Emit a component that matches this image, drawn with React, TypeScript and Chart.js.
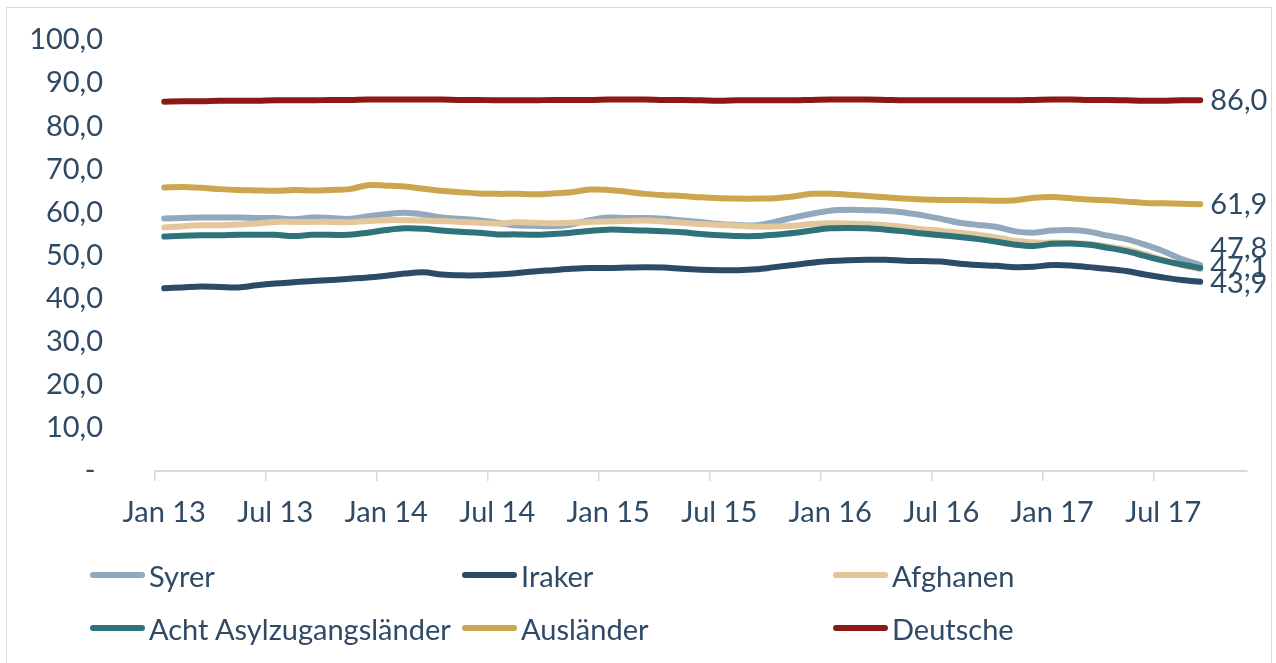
import React, { useEffect, useRef } from "react";
import { Chart, registerables } from "chart.js";

Chart.register(...registerables);

const categories = [
  "Jan 13", "Feb 13", "Mär 13", "Apr 13", "Mai 13", "Jun 13", "Jul 13", "Aug 13", "Sep 13", "Okt 13", "Nov 13", "Dez 13",
  "Jan 14", "Feb 14", "Mär 14", "Apr 14", "Mai 14", "Jun 14", "Jul 14", "Aug 14", "Sep 14", "Okt 14", "Nov 14", "Dez 14",
  "Jan 15", "Feb 15", "Mär 15", "Apr 15", "Mai 15", "Jun 15", "Jul 15", "Aug 15", "Sep 15", "Okt 15", "Nov 15", "Dez 15",
  "Jan 16", "Feb 16", "Mär 16", "Apr 16", "Mai 16", "Jun 16", "Jul 16", "Aug 16", "Sep 16", "Okt 16", "Nov 16", "Dez 16",
  "Jan 17", "Feb 17", "Mär 17", "Apr 17", "Mai 17", "Jun 17", "Jul 17", "Aug 17", "Sep 17", "Okt 17", "Nov 17",
];

const syrer = [
  58.6, 58.7, 58.8, 58.8, 58.8, 58.7, 58.7, 58.4, 58.8, 58.7, 58.5, 59.1,
  59.6, 59.9, 59.5, 58.8, 58.5, 58.2, 57.6, 57.0, 56.9, 56.8, 57.2, 58.2,
  58.8, 58.7, 58.7, 58.5, 58.1, 57.8, 57.3, 57.1, 57.0, 57.8, 58.8, 59.7,
  60.4, 60.6, 60.5, 60.4, 60.0, 59.3, 58.5, 57.6, 57.1, 56.6, 55.6, 55.3,
  55.8, 55.9, 55.5, 54.6, 53.8, 52.5, 51.0, 49.2, 47.8, null, null,
];

const iraker = [
  42.4, 42.6, 42.8, 42.7, 42.6, 43.1, 43.5, 43.8, 44.1, 44.3, 44.6, 44.9,
  45.3, 45.8, 46.1, 45.6, 45.4, 45.4, 45.6, 45.9, 46.3, 46.6, 46.9, 47.1,
  47.1, 47.2, 47.3, 47.2, 46.9, 46.7, 46.6, 46.6, 46.8, 47.3, 47.8, 48.3,
  48.7, 48.9, 49.0, 49.0, 48.8, 48.7, 48.6, 48.1, 47.8, 47.6, 47.3, 47.4,
  47.8, 47.7, 47.3, 46.9, 46.4, 45.6, 44.9, 44.3, 43.9, null, null,
];

const afghanen = [
  56.5, 56.8, 57.0, 57.0, 57.2, 57.4, 57.8, 57.8, 57.8, 57.8, 57.7, 58.0,
  58.2, 58.2, 58.1, 58.0, 57.8, 57.6, 57.4, 57.7, 57.6, 57.5, 57.6, 57.8,
  57.9, 58.0, 58.1, 57.9, 57.6, 57.3, 57.1, 56.9, 56.7, 56.7, 56.9, 57.3,
  57.5, 57.4, 57.3, 57.0, 56.6, 56.1, 55.7, 55.3, 54.8, 54.2, 53.4, 53.0,
  53.0, 52.9, 52.7, 52.1, 51.4, 50.3, 49.0, 47.8, 46.8, null, null,
];

const achtLaender = [
  54.4, 54.6, 54.7, 54.7, 54.8, 54.8, 54.8, 54.5, 54.8, 54.8, 54.8, 55.3,
  55.9, 56.3, 56.2, 55.8, 55.5, 55.3, 54.9, 54.9, 54.8, 55.0, 55.3, 55.7,
  56.0, 55.9, 55.8, 55.6, 55.4, 55.0, 54.7, 54.5, 54.5, 54.8, 55.2, 55.8,
  56.3, 56.4, 56.3, 56.0, 55.6, 55.1, 54.7, 54.3, 53.8, 53.2, 52.5, 52.2,
  52.7, 52.8, 52.5, 51.8, 51.0, 49.9, 48.8, 47.9, 47.1, null, null,
];

const auslaender = [
  65.8, 65.9, 65.7, 65.4, 65.2, 65.1, 65.0, 65.2, 65.1, 65.2, 65.4, 66.3,
  66.2, 66.0, 65.5, 65.0, 64.7, 64.4, 64.3, 64.3, 64.2, 64.4, 64.7, 65.3,
  65.2, 64.8, 64.3, 64.0, 63.8, 63.5, 63.3, 63.2, 63.2, 63.3, 63.7, 64.3,
  64.3, 64.1, 63.8, 63.5, 63.2, 63.0, 62.9, 62.9, 62.8, 62.7, 62.8, 63.4,
  63.6, 63.3, 63.0, 62.8, 62.5, 62.2, 62.1, 62.0, 61.9, null, null,
];

const deutsche = [
  85.7, 85.8, 85.8, 85.9, 85.9, 85.9, 86.0, 86.0, 86.0, 86.1, 86.1, 86.2,
  86.2, 86.2, 86.2, 86.2, 86.1, 86.1, 86.0, 86.0, 86.0, 86.1, 86.1, 86.1,
  86.2, 86.2, 86.2, 86.1, 86.1, 86.0, 85.9, 86.0, 86.0, 86.0, 86.0, 86.1,
  86.2, 86.2, 86.2, 86.1, 86.0, 86.0, 86.0, 86.0, 86.0, 86.0, 86.0, 86.1,
  86.2, 86.2, 86.1, 86.1, 86.0, 85.9, 85.9, 86.0, 86.0, null, null,
];

const seriesNames = ["Syrer", "Iraker", "Afghanen", "Acht Asylzugangsländer", "Ausländer", "Deutsche"];
const seriesColors = ["#91a8bd", "#2d4a66", "#e3c699", "#2e737a", "#cda54f", "#8b1a14"];
const seriesData = [syrer, iraker, afghanen, achtLaender, auslaender, deutsche];
const endLabels: (string | null)[] = ["47,8", "43,9", null, "47,1", "61,9", "86,0"];
const endLabelDy = [-16, 2, 0, 0, 0, 0];

const yTicks = [0, 10, 20, 30, 40, 50, 60, 70, 80, 90, 100];

const TEXT_COLOR = "#2e4a66";
const FONT_FAMILY = "Lato, 'Open Sans', sans-serif";
const FONT_SIZE = 29;

const endLabelPlugin = {
  id: "endLabels",
  afterDatasetsDraw(chart: any) {
    const ctx = chart.ctx;
    ctx.save();
    ctx.font = `${FONT_SIZE}px ${FONT_FAMILY}`;
    ctx.fillStyle = TEXT_COLOR;
    ctx.textAlign = "left";
    ctx.textBaseline = "middle";
    chart.data.datasets.forEach((ds: any, di: number) => {
      const text = endLabels[di];
      if (!text) return;
      const meta = chart.getDatasetMeta(di);
      let last = -1;
      ds.data.forEach((v: any, i: number) => {
        if (v !== null && v !== undefined) last = i;
      });
      if (last < 0) return;
      const pt = meta.data[last];
      ctx.fillText(text, pt.x + 10, pt.y + endLabelDy[di]);
    });
    ctx.restore();
  },
};

export default function App() {
  const canvasRef = useRef<HTMLCanvasElement | null>(null);

  useEffect(() => {
    if (!canvasRef.current) return;
    const chart = new Chart(canvasRef.current, {
      type: "line",
      data: {
        labels: categories,
        datasets: seriesData.map((d, i) => ({
          label: seriesNames[i],
          data: d,
          borderColor: seriesColors[i],
          backgroundColor: seriesColors[i],
          borderWidth: 6,
          borderCapStyle: "round" as const,
          borderJoinStyle: "round" as const,
          pointRadius: 0,
          pointHoverRadius: 0,
          tension: 0.35,
          fill: false,
          order: seriesData.length - i,
          spanGaps: false,
        })),
      },
      options: {
        responsive: false,
        animation: false,
        devicePixelRatio: 1,
        layout: { padding: { top: 40, right: 29.5, bottom: 0, left: 0 } },
        plugins: {
          legend: { display: false },
          tooltip: { enabled: false },
        },
        scales: {
          x: {
            type: "category",
            offset: true,
            grid: {
              offset: true,
              drawOnChartArea: false,
              drawTicks: true,
              tickLength: 10,
              lineWidth: 1.5,
              tickColor: (ctx: any) => (ctx.index % 6 === 0 && ctx.index < categories.length ? "#d9d9d9" : "rgba(0,0,0,0)"),
              color: "rgba(0,0,0,0)",
            },
            border: { display: true, color: "#d9d9d9", width: 2 },
            ticks: {
              autoSkip: false,
              maxRotation: 0,
              minRotation: 0,
              padding: 14,
              color: TEXT_COLOR,
              font: { family: FONT_FAMILY, size: FONT_SIZE },
              callback: (_v: any, i: number) => (i % 6 === 0 ? categories[i] : ""),
            },
            afterFit: (scale: any) => {
              scale.height = 192;
            },
          },
          y: {
            min: 0,
            max: 100,
            afterBuildTicks: (scale: any) => {
              scale.ticks = yTicks.map((v) => ({ value: v }));
            },
            grid: { display: false, drawTicks: false, tickLength: 0 },
            border: { display: false },
            ticks: {
              padding: 52,
              color: TEXT_COLOR,
              font: { family: FONT_FAMILY, size: FONT_SIZE },
              callback: (v: any) => (v === 0 ? "- " : Number(v).toFixed(1).replace(".", ",")),
            },
            afterFit: (scale: any) => {
              scale.width = 155;
              scale.paddingTop = 0;
              scale.paddingBottom = 0;
            },
          },
        },
      },
      plugins: [endLabelPlugin],
    });
    return () => chart.destroy();
  }, []);

  const legendCols = [90, 462, 833];
  const legendRows = [575, 628];

  return (
    <div style={{ position: "absolute", left: 0, top: 0, width: 1276, height: 663, overflow: "hidden", background: "#fff" }}>
      <div
        style={{
          position: "absolute",
          left: 6,
          top: 7,
          width: 1266,
          height: 700,
          border: "1.5px solid #d9d9d9",
          boxSizing: "border-box",
        }}
      />
      <canvas
        ref={canvasRef}
        width={1276}
        height={663}
        style={{ position: "absolute", left: 0, top: 0, width: 1276, height: 663 }}
      />
      {seriesNames.map((name, i) => {
        const col = i % 3;
        const row = Math.floor(i / 3);
        return (
          <div
            key={name}
            style={{
              position: "absolute",
              left: legendCols[col],
              top: legendRows[row] - 20,
              height: 40,
              display: "flex",
              alignItems: "center",
              fontFamily: FONT_FAMILY,
              fontSize: FONT_SIZE,
              color: TEXT_COLOR,
              whiteSpace: "nowrap",
            }}
          >
            <span
              style={{
                display: "inline-block",
                width: 55,
                height: 6,
                borderRadius: 3,
                background: seriesColors[i],
                marginRight: 4,
              }}
            />
            <span>{name}</span>
          </div>
        );
      })}
    </div>
  );
}
